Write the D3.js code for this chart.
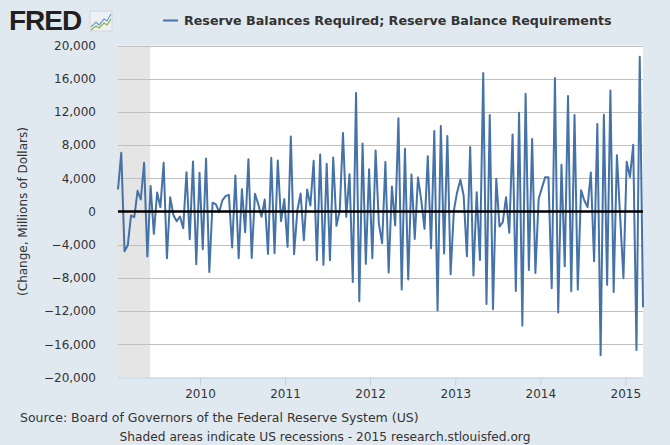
<!DOCTYPE html>
<html>
<head>
<meta charset="utf-8">
<script src="https://cdn.jsdelivr.net/npm/d3@7"></script>
<style>
  body { margin: 0; background: #e1e9f0; }
  svg { display: block; font-family: "DejaVu Sans", sans-serif; }
</style>
</head>
<body>
<svg id="chart"></svg>
<script>
// biweekly maintenance periods, first period end date
const firstDate = '2009-01-14';
const stepDays = 14;

// change, millions of dollars
const values = [
  2650, 7080, -4790, -4060, -480, -680, 2490, 1450, 5870, -5430,
  3060, -2690, 2290, 520, 5870, -5630, 1730, -440, -1170, -600,
  -2010, 4740, -3340, 6030, -6350, 4660, -4540, 6390, -7280, 1050,
  880, -80, 1330, 1850, 2010, -4340, 4340, -5630, 2690, -2490,
  6310,
  -5590, 2130, 920, -640, 1450, -5110, 6470, -5030, 6150, -1170,
  1490, -4260, 9050, -5150, 120, 2170, -3460, 2650, 720, 6110,
  -5870, 6870, -6430, 5750, -5870, 6510, -1730, 120, 9450, -640,
  4500, -8480, 14270, -10810, 8200, -6310, 5100, -5630, 7360, -1490,
  -3820,
  5950, -7360, 3020, -1690, 11220, -9410, 7560, -8200, 4460, -3300,
  4100, 1330, -2090, 6670, -4420, 9690, -11940, 10290, -5070, 9090,
  -7560, 120, 2330, 3820, 1930, -5390, 7760, -7720, 2330, -5830,
  16680, -11140, 11620, -11780, 3940, -1810, -1290, 1730, -2570, 9290,
  -9570,
  11900, -13750, 14190, -7040, 8720, -7400, 1530, 2850, 4140, 4140,
  -9250, 16080, -12180, 5630, -6590, 13910, -9610, 11620, -9410, 2570,
  1330, 520, 4700, -5990, 10530, -17330, 11660, -8840, 14590, -9690,
  6790, -680, -8040, 5990, 4140, 8040, -16680, 18650, -11540
];

const recessions = [['2007-12-01', '2009-06-01']];
const yTicks = [-20000, -16000, -12000, -8000, -4000, 0, 4000, 8000, 12000, 16000, 20000];

const seriesTitle = 'Reserve Balances Required; Reserve Balance Requirements';
const yTitle = '(Change, Millions of Dollars)';
const sourceText = 'Source: Board of Governors of the Federal Reserve System (US)';
const noteText = 'Shaded areas indicate US recessions - 2015 research.stlouisfed.org';

const width = 670, height = 445;
const plot = { left: 118, right: 643, top: 45.5, bottom: 377.5 };

const parse = d3.timeParse('%Y-%m-%d');
const start = parse(firstDate);
const data = values.map((v, i) => ({ date: d3.timeDay.offset(start, i * stepDays), value: v }));

const svg = d3.select('#chart')
  .attr('width', width)
  .attr('height', height);

svg.append('rect')
  .attr('width', width).attr('height', height)
  .attr('fill', '#e1e9f0');

const x = d3.scaleTime()
  .domain(d3.extent(data, d => d.date))
  .range([plot.left, plot.right]);

const y = d3.scaleLinear()
  .domain([-20000, 20000])
  .range([plot.bottom, plot.top]);

// plot background
svg.append('rect')
  .attr('x', plot.left).attr('y', plot.top)
  .attr('width', plot.right - plot.left).attr('height', plot.bottom - plot.top)
  .attr('fill', '#fff');

// recession shading
svg.append('g').selectAll('rect')
  .data(recessions)
  .enter().append('rect')
  .attr('x', d => Math.max(plot.left, x(parse(d[0]))))
  .attr('y', plot.top)
  .attr('width', d => x(parse(d[1])) - Math.max(plot.left, x(parse(d[0]))))
  .attr('height', plot.bottom - plot.top)
  .attr('fill', '#e5e5e5');

// grid
svg.append('g').selectAll('line')
  .data(yTicks.filter(t => t !== -20000 && t !== 0))
  .enter().append('line')
  .attr('x1', plot.left).attr('x2', plot.right)
  .attr('y1', d => Math.round(y(d)) + 0.5).attr('y2', d => Math.round(y(d)) + 0.5)
  .attr('stroke', '#c0c0c0')
  .attr('stroke-width', 1);

// y axis labels
const yAxis = svg.append('g')
  .attr('transform', `translate(${plot.left},0)`)
  .call(d3.axisLeft(y).tickValues(yTicks).tickSize(0).tickPadding(22).tickFormat(d3.format(',')));
yAxis.select('.domain').remove();
yAxis.selectAll('text')
  .attr('fill', '#333')
  .style('font-size', '12px')
  .style('font-family', '"DejaVu Sans", sans-serif');

// x axis
const xAxis = svg.append('g')
  .attr('transform', `translate(0,${plot.bottom})`)
  .call(d3.axisBottom(x).ticks(d3.timeYear.every(1)).tickSize(8).tickPadding(4).tickFormat(d3.timeFormat('%Y')));
xAxis.select('.domain')
  .attr('stroke', '#c0d0e0')
  .attr('d', `M${plot.left},0.5H${plot.right}`);
xAxis.selectAll('.tick line').attr('stroke', '#c0d0e0');
xAxis.selectAll('text')
  .attr('fill', '#333')
  .style('font-size', '12px')
  .style('font-family', '"DejaVu Sans", sans-serif');

// series line
svg.append('path')
  .datum(data)
  .attr('fill', 'none')
  .attr('stroke', '#4572a7')
  .attr('stroke-width', 2)
  .attr('stroke-linejoin', 'round')
  .attr('d', d3.line().x(d => x(d.date)).y(d => y(d.value)));

// zero line
svg.append('line')
  .attr('x1', plot.left).attr('x2', plot.right)
  .attr('y1', y(0)).attr('y2', y(0))
  .attr('stroke', '#000')
  .attr('stroke-width', 2.5);

// y title
svg.append('text')
  .attr('transform', `translate(27,${(plot.top + plot.bottom) / 2}) rotate(-90)`)
  .attr('text-anchor', 'middle')
  .attr('fill', '#333')
  .style('font-size', '12px')
  .text(yTitle);

// header: logo
svg.append('text')
  .attr('x', 9).attr('y', 30)
  .attr('fill', '#231f20')
  .style('font-size', '28px')
  .style('font-weight', 'bold')
  .style('letter-spacing', '-1px')
  .style('font-family', '"Liberation Sans", Arial, sans-serif')
  .text('FRED');
const icon = svg.append('g').attr('transform', 'translate(90,11)');
icon.append('rect')
  .attr('width', 22).attr('height', 20)
  .attr('fill', '#eef1f4')
  .attr('stroke', '#d0d6dc');
icon.append('path')
  .attr('d', 'M1,16 L6,11 L9,14 L14,8 L17,10 L21,3')
  .attr('fill', 'none').attr('stroke', '#6f9bc8').attr('stroke-width', 1.2);
icon.append('path')
  .attr('d', 'M1,19 L6,15 L9,17 L14,12 L17,14 L21,8')
  .attr('fill', 'none').attr('stroke', '#8ab04a').attr('stroke-width', 1.2);

// legend
svg.append('line')
  .attr('x1', 163).attr('x2', 178)
  .attr('y1', 20.5).attr('y2', 20.5)
  .attr('stroke', '#4572a7')
  .attr('stroke-width', 2);
svg.append('text')
  .attr('x', 184).attr('y', 25)
  .attr('fill', '#333')
  .style('font-size', '12.7px')
  .style('font-weight', 'bold')
  .text(seriesTitle);

// footer
svg.append('text')
  .attr('x', 20).attr('y', 422)
  .attr('fill', '#333')
  .style('font-size', '12.5px')
  .text(sourceText);
svg.append('text')
  .attr('x', 325).attr('y', 441)
  .attr('text-anchor', 'middle')
  .attr('fill', '#333')
  .style('font-size', '12.2px')
  .text(noteText);
</script>
</body>
</html>
